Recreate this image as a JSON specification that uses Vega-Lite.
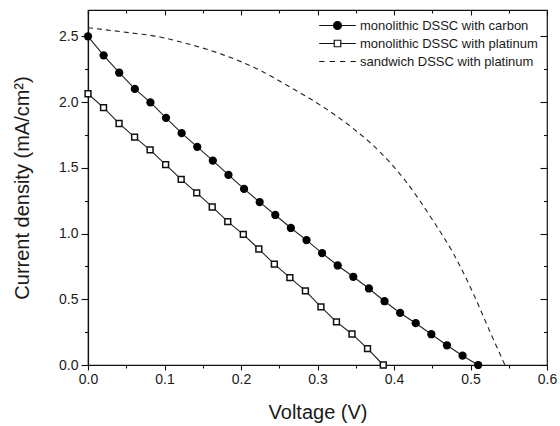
{
  "$schema": "https://vega.github.io/schema/vega-lite/v6.json",
  "autosize": "none",
  "width": 459,
  "height": 355,
  "padding": {"left": 88, "top": 10, "right": 13, "bottom": 61},
  "background": "white",
  "config": {
    "view": {"stroke": "#111", "strokeWidth": 1.2},
    "font": "Liberation Sans",
    "axis": {
      "domainColor": "#111",
      "domainWidth": 1.2,
      "tickColor": "#111",
      "tickWidth": 1.1,
      "grid": false,
      "labelFont": "Liberation Sans",
      "labelFontSize": 14,
      "labelColor": "#1a1a1a",
      "titleFont": "Liberation Sans",
      "titleFontSize": 20,
      "titleFontWeight": "normal",
      "titleColor": "#1a1a1a"
    }
  },
  "datasets": {
    "curves": [
      {"series": "carbon", "V": 0.0, "I": 2.5},
      {"series": "carbon", "V": 0.0204, "I": 2.355},
      {"series": "carbon", "V": 0.0408, "I": 2.223},
      {"series": "carbon", "V": 0.0612, "I": 2.1},
      {"series": "carbon", "V": 0.0816, "I": 1.997},
      {"series": "carbon", "V": 0.102, "I": 1.88},
      {"series": "carbon", "V": 0.1224, "I": 1.763},
      {"series": "carbon", "V": 0.1428, "I": 1.659},
      {"series": "carbon", "V": 0.1632, "I": 1.555},
      {"series": "carbon", "V": 0.1836, "I": 1.446},
      {"series": "carbon", "V": 0.204, "I": 1.339},
      {"series": "carbon", "V": 0.2244, "I": 1.239},
      {"series": "carbon", "V": 0.2448, "I": 1.141},
      {"series": "carbon", "V": 0.2652, "I": 1.042},
      {"series": "carbon", "V": 0.2856, "I": 0.95},
      {"series": "carbon", "V": 0.306, "I": 0.851},
      {"series": "carbon", "V": 0.3264, "I": 0.757},
      {"series": "carbon", "V": 0.3468, "I": 0.671},
      {"series": "carbon", "V": 0.3672, "I": 0.582},
      {"series": "carbon", "V": 0.3876, "I": 0.485},
      {"series": "carbon", "V": 0.408, "I": 0.396},
      {"series": "carbon", "V": 0.4284, "I": 0.318},
      {"series": "carbon", "V": 0.4488, "I": 0.234},
      {"series": "carbon", "V": 0.4692, "I": 0.15},
      {"series": "carbon", "V": 0.4896, "I": 0.071},
      {"series": "carbon", "V": 0.51, "I": 0.0},
      {"series": "platinum", "V": 0.0, "I": 2.063},
      {"series": "platinum", "V": 0.0203, "I": 1.957},
      {"series": "platinum", "V": 0.0406, "I": 1.837},
      {"series": "platinum", "V": 0.0609, "I": 1.733},
      {"series": "platinum", "V": 0.0812, "I": 1.636},
      {"series": "platinum", "V": 0.1015, "I": 1.524},
      {"series": "platinum", "V": 0.1218, "I": 1.412},
      {"series": "platinum", "V": 0.1421, "I": 1.309},
      {"series": "platinum", "V": 0.1624, "I": 1.202},
      {"series": "platinum", "V": 0.1827, "I": 1.09},
      {"series": "platinum", "V": 0.203, "I": 0.993},
      {"series": "platinum", "V": 0.2233, "I": 0.882},
      {"series": "platinum", "V": 0.2436, "I": 0.767},
      {"series": "platinum", "V": 0.2639, "I": 0.665},
      {"series": "platinum", "V": 0.2842, "I": 0.564},
      {"series": "platinum", "V": 0.3045, "I": 0.442},
      {"series": "platinum", "V": 0.3248, "I": 0.328},
      {"series": "platinum", "V": 0.3451, "I": 0.236},
      {"series": "platinum", "V": 0.3654, "I": 0.124},
      {"series": "platinum", "V": 0.386, "I": 0.0},
      {"series": "sandwich", "V": 0.0, "I": 2.565},
      {"series": "sandwich", "V": 0.05, "I": 2.53},
      {"series": "sandwich", "V": 0.094, "I": 2.495},
      {"series": "sandwich", "V": 0.1246, "I": 2.452},
      {"series": "sandwich", "V": 0.1725, "I": 2.368},
      {"series": "sandwich", "V": 0.2205, "I": 2.254},
      {"series": "sandwich", "V": 0.264, "I": 2.114},
      {"series": "sandwich", "V": 0.3076, "I": 1.962},
      {"series": "sandwich", "V": 0.3468, "I": 1.798},
      {"series": "sandwich", "V": 0.3817, "I": 1.62},
      {"series": "sandwich", "V": 0.415, "I": 1.4},
      {"series": "sandwich", "V": 0.451, "I": 1.098},
      {"series": "sandwich", "V": 0.478, "I": 0.844},
      {"series": "sandwich", "V": 0.504, "I": 0.539},
      {"series": "sandwich", "V": 0.525, "I": 0.259},
      {"series": "sandwich", "V": 0.545, "I": 0.0}
    ]
  },
  "data": {"name": "curves"},
  "resolve": {"axis": {"x": "independent", "y": "independent"}},
  "layer": [
    {
      "transform": [{"filter": "datum.series === 'sandwich'"}],
      "mark": {"type": "line", "interpolate": "monotone", "stroke": "#222", "strokeWidth": 1.1, "strokeDash": [5, 4]},
      "encoding": {
        "x": {
          "field": "V", "type": "quantitative",
          "scale": {"domain": [0, 0.6], "nice": false, "zero": false},
          "axis": {
            "orient": "bottom",
            "title": "Voltage (V)",
            "values": [0, 0.05, 0.1, 0.15, 0.2, 0.25, 0.3, 0.35, 0.4, 0.45, 0.5, 0.55, 0.6],
            "labelExpr": "abs(datum.value*10 - round(datum.value*10)) < 0.001 ? format(datum.value, '.1f') : ''",
            "tickSize": {"condition": {"test": "abs(datum.value*10 - round(datum.value*10)) < 0.001", "value": 5}, "value": 3},
            "labelPadding": 2,
            "labelOverlap": false,
            "labelFlush": false,
            "titlePadding": 16
          }
        },
        "y": {
          "field": "I", "type": "quantitative",
          "scale": {"domain": [0, 2.7], "nice": false, "zero": false},
          "axis": {
            "orient": "left",
            "title": "Current density (mA/cm²)",
            "values": [0, 0.25, 0.5, 0.75, 1, 1.25, 1.5, 1.75, 2, 2.25, 2.5],
            "labelExpr": "abs(datum.value*2 - round(datum.value*2)) < 0.001 ? format(datum.value, '.1f') : ''",
            "tickSize": {"condition": {"test": "abs(datum.value*2 - round(datum.value*2)) < 0.001", "value": 7}, "value": 3.5},
            "labelPadding": 3,
            "labelOverlap": false,
            "labelFlush": false,
            "titlePadding": 26
          }
        }
      }
    },
    {
      "transform": [{"filter": "datum.series !== 'sandwich'"}],
      "mark": {"type": "line", "stroke": "#222", "strokeWidth": 1.1},
      "encoding": {
        "x": {"field": "V", "type": "quantitative", "scale": {"domain": [0, 0.6], "nice": false, "zero": false}, "axis": null},
        "y": {"field": "I", "type": "quantitative", "scale": {"domain": [0, 2.7], "nice": false, "zero": false}, "axis": null},
        "detail": {"field": "series"}
      }
    },
    {
      "transform": [{"filter": "datum.series === 'carbon'"}],
      "mark": {"type": "point", "shape": "circle", "filled": true, "fill": "#000", "stroke": null, "size": 68, "opacity": 1},
      "encoding": {
        "x": {"field": "V", "type": "quantitative", "scale": {"domain": [0, 0.6], "nice": false, "zero": false}, "axis": null},
        "y": {"field": "I", "type": "quantitative", "scale": {"domain": [0, 2.7], "nice": false, "zero": false}, "axis": null}
      }
    },
    {
      "transform": [{"filter": "datum.series === 'platinum'"}],
      "mark": {"type": "point", "shape": "square", "filled": false, "fill": "#fff", "fillOpacity": 1, "stroke": "#111", "strokeWidth": 1.5, "size": 34, "opacity": 1},
      "encoding": {
        "x": {"field": "V", "type": "quantitative", "scale": {"domain": [0, 0.6], "nice": false, "zero": false}, "axis": null},
        "y": {"field": "I", "type": "quantitative", "scale": {"domain": [0, 2.7], "nice": false, "zero": false}, "axis": null}
      }
    },
    {
      "transform": [{"filter": "datum.series === 'legend-only'"}],
      "mark": {"type": "point", "filled": true, "strokeWidth": 1.2},
      "encoding": {
        "x": {
          "field": "V", "type": "quantitative",
          "scale": {"domain": [0, 0.6], "nice": false, "zero": false},
          "axis": {
            "orient": "top", "title": null, "labels": false, "domain": false,
            "values": [0, 0.05, 0.1, 0.15, 0.2, 0.25, 0.3, 0.35, 0.4, 0.45, 0.5, 0.55, 0.6],
            "tickSize": {"condition": {"test": "abs(datum.value*10 - round(datum.value*10)) < 0.001", "value": -5}, "value": -3}
          }
        },
        "y": {
          "field": "I", "type": "quantitative",
          "scale": {"domain": [0, 2.7], "nice": false, "zero": false},
          "axis": {
            "orient": "right", "title": null, "labels": false, "domain": false,
            "values": [0, 0.25, 0.5, 0.75, 1, 1.25, 1.5, 1.75, 2, 2.25, 2.5],
            "tickSize": {"condition": {"test": "abs(datum.value*2 - round(datum.value*2)) < 0.001", "value": -7}, "value": -3.5}
          }
        },
        "shape": {
          "field": "series", "type": "nominal",
          "scale": {
            "domain": ["carbon", "platinum", "sandwich"],
            "range": [
              "M -3.66 0 L -0.8 0 M 0.8 0 L 3.66 0 M -0.8 0 A 0.8 0.8 0 1 0 0.8 0 A 0.8 0.8 0 1 0 -0.8 0 Z",
              "M -3.66 0 L -0.65 0 M 0.65 0 L 3.66 0 M -0.65 -0.65 L 0.65 -0.65 L 0.65 0.65 L -0.65 0.65 Z",
              "M -3.66 0 L -2.6 0 M -1.55 0 L -0.5 0 M 0.5 0 L 1.55 0 M 2.6 0 L 3.66 0"
            ]
          },
          "legend": {
            "title": null,
            "orient": "top-right",
            "offset": 9,
            "padding": 0,
            "symbolSize": 100,
            "symbolStrokeWidth": 1.2,
            "symbolOpacity": 1,
            "labelOffset": 16,
            "labelFont": "Liberation Sans",
            "labelFontSize": 13,
            "labelColor": "#1a1a1a",
            "labelLimit": 400,
            "rowPadding": 4,
            "labelExpr": "datum.label === 'carbon' ? 'monolithic DSSC with carbon' : datum.label === 'platinum' ? 'monolithic DSSC with platinum' : 'sandwich DSSC with platinum'"
          }
        },
        "fill": {
          "field": "series", "type": "nominal",
          "scale": {"domain": ["carbon", "platinum", "sandwich"], "range": ["#000", "#fff", "#fff"]},
          "legend": {
            "title": null,
            "orient": "top-right",
            "offset": 9,
            "padding": 0,
            "symbolSize": 100,
            "labelOffset": 16,
            "labelFontSize": 13,
            "labelLimit": 400,
            "rowPadding": 4
          }
        },
        "stroke": {
          "field": "series", "type": "nominal",
          "scale": {"domain": ["carbon", "platinum", "sandwich"], "range": ["#111", "#111", "#111"]},
          "legend": {
            "title": null,
            "orient": "top-right",
            "offset": 9,
            "padding": 0,
            "symbolSize": 100,
            "labelOffset": 16,
            "labelFontSize": 13,
            "labelLimit": 400,
            "rowPadding": 4
          }
        }
      }
    }
  ]
}
